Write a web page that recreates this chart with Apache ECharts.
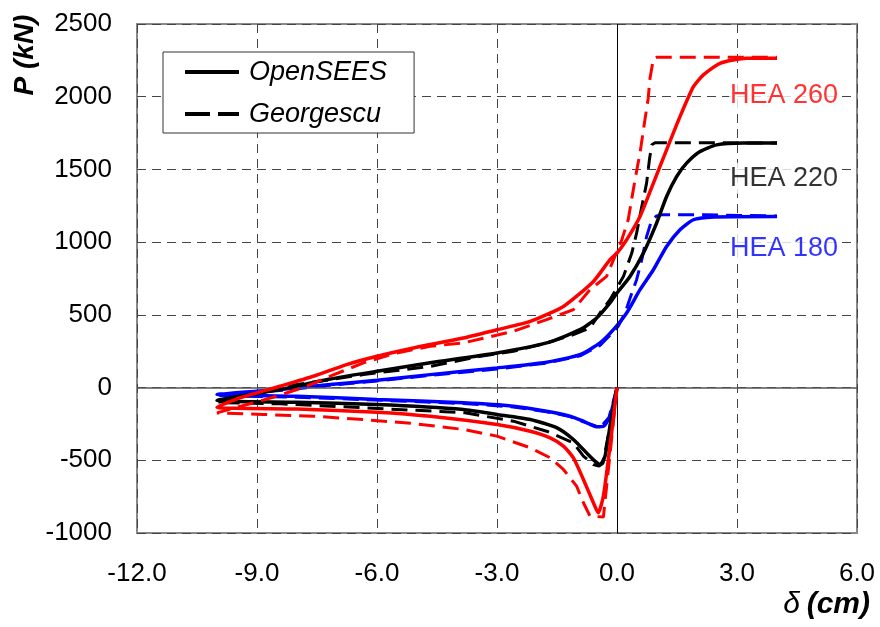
<!DOCTYPE html>
<html>
<head>
<meta charset="utf-8">
<script src="https://cdn.jsdelivr.net/npm/echarts@6/dist/echarts.min.js"></script>
<style>
  html, body { margin: 0; padding: 0; background: #fff; }
  #chart { width: 880px; height: 627px; }
</style>
</head>
<body>
<div id="chart"></div>
<script>
// Axis ticks
const xTicks = [-12, -9, -6, -3, 0, 3, 6];
const yTicks = [-1000, -500, 0, 500, 1000, 1500, 2000, 2500];

// Section labels: [delta, P, text]
const sectionLabels = [
  [2.8, 2010, 'HEA 260'],
  [2.8, 1440, 'HEA 220'],
  [2.8, 958, 'HEA 180']
];

// Load path P(δ): from origin down to the minimum, along the lower branch to δ = -10,
// then back along the upper branch up to the plateau.
const hea180OpenSees = [
  [0, 0], [-0.175, -197], [-0.34, -266], [-0.51, -270], [-0.84, -231], [-1.175, -197],
  [-1.76, -163], [-2.59, -128], [-3.84, -105], [-6, -82], [-8, -60], [-10, -48],
  [-8.43, -14], [-7.17, 21], [-6, 50], [-4.67, 89], [-3.0, 135], [-1.76, 174],
  [-0.925, 227], [-0.425, 307], [-0.09, 398], [0.24, 513], [0.575, 673], [0.91, 810],
  [1.24, 970], [1.575, 1085], [1.91, 1154], [2.33, 1172], [4.0, 1176]
];
const hea180Georgescu = [
  [0, 0], [-0.2, -205], [-0.4, -268], [-0.55, -262], [-0.84, -236], [-1.175, -199],
  [-1.76, -167], [-2.59, -133], [-3.84, -110], [-6, -86], [-8, -66], [-10, -55],
  [-8.43, -20], [-7.17, 16], [-6, 45], [-4.67, 84], [-3.0, 128], [-1.76, 168],
  [-0.925, 218], [-0.425, 290], [-0.1, 380], [0.03, 421], [0.2, 513], [0.37, 650],
  [0.49, 742], [0.62, 879], [0.74, 1039], [0.87, 1154], [0.99, 1180], [1.12, 1188],
  [2.2, 1188], [4.0, 1180]
];
const hea220OpenSees = [
  [0, 0], [-0.175, -266], [-0.3, -472], [-0.425, -529], [-0.55, -506], [-0.76, -449],
  [-1.09, -357], [-1.5, -277], [-2.17, -220], [-3.0, -185], [-3.84, -151], [-6, -117],
  [-8, -101], [-10, -89], [-8.43, -14], [-7.17, 59], [-6, 112], [-4.67, 170],
  [-3.0, 238], [-1.76, 307], [-0.925, 398], [-0.51, 478], [-0.175, 582], [0, 650],
  [0.325, 764], [0.66, 925], [0.99, 1131], [1.24, 1314], [1.49, 1451], [1.74, 1543],
  [2.075, 1623], [2.49, 1669], [3.16, 1681], [4.0, 1681]
];
const hea220Georgescu = [
  [0, 0], [-0.2, -300], [-0.35, -520], [-0.45, -540], [-0.59, -529], [-0.84, -472],
  [-1.09, -380], [-1.76, -300], [-2.59, -231], [-3.84, -172], [-5.09, -156],
  [-7.17, -128], [-8.42, -112], [-10, -103], [-8.0, 21], [-6.34, 89], [-4.67, 146],
  [-3.42, 215], [-2.59, 249], [-1.76, 307], [-1.09, 364], [-0.675, 410], [-0.425, 513],
  [-0.175, 604], [0.16, 764], [0.37, 925], [0.49, 1062], [0.62, 1245], [0.74, 1406],
  [0.81, 1566], [0.87, 1670], [0.95, 1683], [2.5, 1683], [4.0, 1681]
];
const hea260OpenSees = [
  [0, 0], [-0.175, -403], [-0.34, -746], [-0.47, -861], [-0.59, -792], [-0.84, -632],
  [-1.09, -483], [-1.34, -403], [-1.67, -346], [-2.17, -300], [-3.0, -254],
  [-4.67, -197], [-6.0, -169], [-8.0, -147], [-10, -135], [-9.43, -71], [-8.43, 9],
  [-7.59, 78], [-6.76, 158], [-6.0, 215], [-5.09, 272], [-3.84, 341], [-3.0, 398],
  [-2.17, 455], [-1.34, 558], [-0.59, 730], [-0.175, 879], [0, 925], [0.24, 1016],
  [0.575, 1176], [0.91, 1406], [1.24, 1635], [1.575, 1863], [1.91, 2069], [2.16, 2150],
  [2.575, 2230], [3.24, 2264], [4.0, 2264]
];
const hea260Georgescu = [
  [0, 0], [-0.34, -890], [-0.675, -884], [-0.84, -792], [-1.01, -678], [-1.34, -563],
  [-1.67, -483], [-2.17, -414], [-3.0, -334], [-3.84, -288], [-5.09, -247],
  [-6.34, -220], [-7.59, -197], [-8.84, -185], [-10, -174], [-8.51, -60], [-7.76, 9],
  [-7.17, 78], [-6.34, 170], [-5.51, 238], [-4.67, 284], [-3.84, 307], [-2.59, 387],
  [-1.76, 467], [-1.09, 536], [-0.675, 673], [-0.26, 765], [0.12, 1016], [0.28, 1154],
  [0.45, 1429], [0.575, 1612], [0.66, 1772], [0.78, 1990], [0.825, 2127], [0.91, 2260],
  [0.99, 2271], [4.0, 2271]
];

const FONT = '"Liberation Sans", Arial, sans-serif';
const RED = '#ff0000', BLUE = '#0000ff', BLACK = '#000000';
const SOLID_W = 3.5, DASH_W = 3;
const DASH = [16, 8];

function curve(name, data, color, dashed, z) {
  return {
    type: 'line', name: name, data: data, symbol: 'none', silent: true,
    z: z,
    smooth: dashed ? false : 0.2,
    lineStyle: { color: color, width: dashed ? DASH_W : SOLID_W, type: dashed ? DASH : 'solid' },
    itemStyle: { color: color }
  };
}

const chart = echarts.init(document.getElementById('chart'), null, { renderer: 'canvas' });

const series = [
  // Legend keys
  { type: 'line', name: 'OpenSEES', data: [], symbol: 'none',
    lineStyle: { color: BLACK, width: SOLID_W }, itemStyle: { color: BLACK } },
  { type: 'line', name: 'Georgescu', data: [], symbol: 'none',
    lineStyle: { color: BLACK, width: DASH_W, type: DASH }, itemStyle: { color: BLACK } },
  // Zero lines
  { type: 'line', data: [], silent: true,
    markLine: {
      silent: true, symbol: 'none', animation: false, label: { show: false },
      data: [
        { xAxis: 0, lineStyle: { color: '#000', width: 1, type: 'solid' } },
        { yAxis: 0, lineStyle: { color: '#555', width: 1.5, type: 'solid' } }
      ]
    }
  },
  curve('HEA 180 Georgescu', hea180Georgescu, BLUE, true, 3),
  curve('HEA 180 OpenSEES', hea180OpenSees, BLUE, false, 4),
  curve('HEA 220 Georgescu', hea220Georgescu, BLACK, true, 5),
  curve('HEA 220 OpenSEES', hea220OpenSees, BLACK, false, 6),
  curve('HEA 260 Georgescu', hea260Georgescu, RED, true, 7),
  curve('HEA 260 OpenSEES', hea260OpenSees, RED, false, 8),
  // Section names
  { type: 'scatter', symbolSize: 0, silent: true, z: 2,
    data: sectionLabels.map((d, i) => ({
      value: [d[0], d[1]],
      label: {
        show: true, position: 'inside', align: 'left', verticalAlign: 'middle',
        formatter: d[2], fontFamily: FONT, fontSize: 27,
        backgroundColor: '#fff', padding: [2, 3, 2, 1],
        color: [RED, BLACK, BLUE][i]
      }
    }))
  }
];

chart.setOption({
  animation: false,
  backgroundColor: '#fff',
  grid: {
    left: 137, right: 23, top: 24, bottom: 94,
    show: true, borderColor: '#888', borderWidth: 2, backgroundColor: '#fff'
  },
  legend: {
    data: [
      { name: 'OpenSEES', lineStyle: { width: 4, type: 'solid' } },
      { name: 'Georgescu', lineStyle: { width: 4, type: [25, 8] } }
    ],
    orient: 'vertical', left: 163, top: 52,
    padding: [5, 27, 4, 20],
    itemGap: 12, itemWidth: 54, itemHeight: 14,
    borderColor: '#333', borderWidth: 1, backgroundColor: '#fff',
    selectedMode: false,
    itemStyle: { color: 'transparent', borderColor: 'transparent', borderWidth: 0, opacity: 0 },
    textStyle: { fontFamily: FONT, fontSize: 27, fontStyle: 'italic', color: '#000',
                 lineHeight: 30, padding: [0, 0, 0, 5] }
  },
  xAxis: {
    type: 'value', min: xTicks[0], max: xTicks[xTicks.length - 1], interval: 3,
    axisLine: { show: false, onZero: false },
    axisTick: { show: false },
    axisLabel: { margin: 28, fontFamily: FONT, fontSize: 26, color: '#000',
                 formatter: v => v.toFixed(1) },
    splitLine: { show: true, lineStyle: { color: '#444', width: 1, type: [9, 6] } }
  },
  yAxis: {
    type: 'value', min: yTicks[0], max: yTicks[yTicks.length - 1], interval: 500,
    axisLine: { show: false, onZero: false },
    axisTick: { show: false },
    axisLabel: { margin: 25, fontFamily: FONT, fontSize: 26, color: '#000',
                 formatter: v => String(v) },
    splitLine: { show: true, lineStyle: { color: '#444', width: 1, type: [9, 6] } }
  },
  graphic: [
    { type: 'text', x: 25, y: 55, rotation: Math.PI / 2, z: 10,
      style: { text: 'P (kN)', fontFamily: FONT, fontSize: 28, fontWeight: 'bold',
               fontStyle: 'italic', fill: '#000', align: 'center', verticalAlign: 'middle' } },
    { type: 'text', right: 10, top: 590, z: 10,
      style: { text: '{d|δ}  {u|(cm)}', fill: '#000',
               rich: {
                 d: { fontFamily: FONT, fontSize: 30, fontStyle: 'italic', color: '#000' },
                 u: { fontFamily: FONT, fontSize: 30, fontWeight: 'bold', fontStyle: 'italic', color: '#000' }
               } } }
  ],
  series: series
});
</script>
</body>
</html>
